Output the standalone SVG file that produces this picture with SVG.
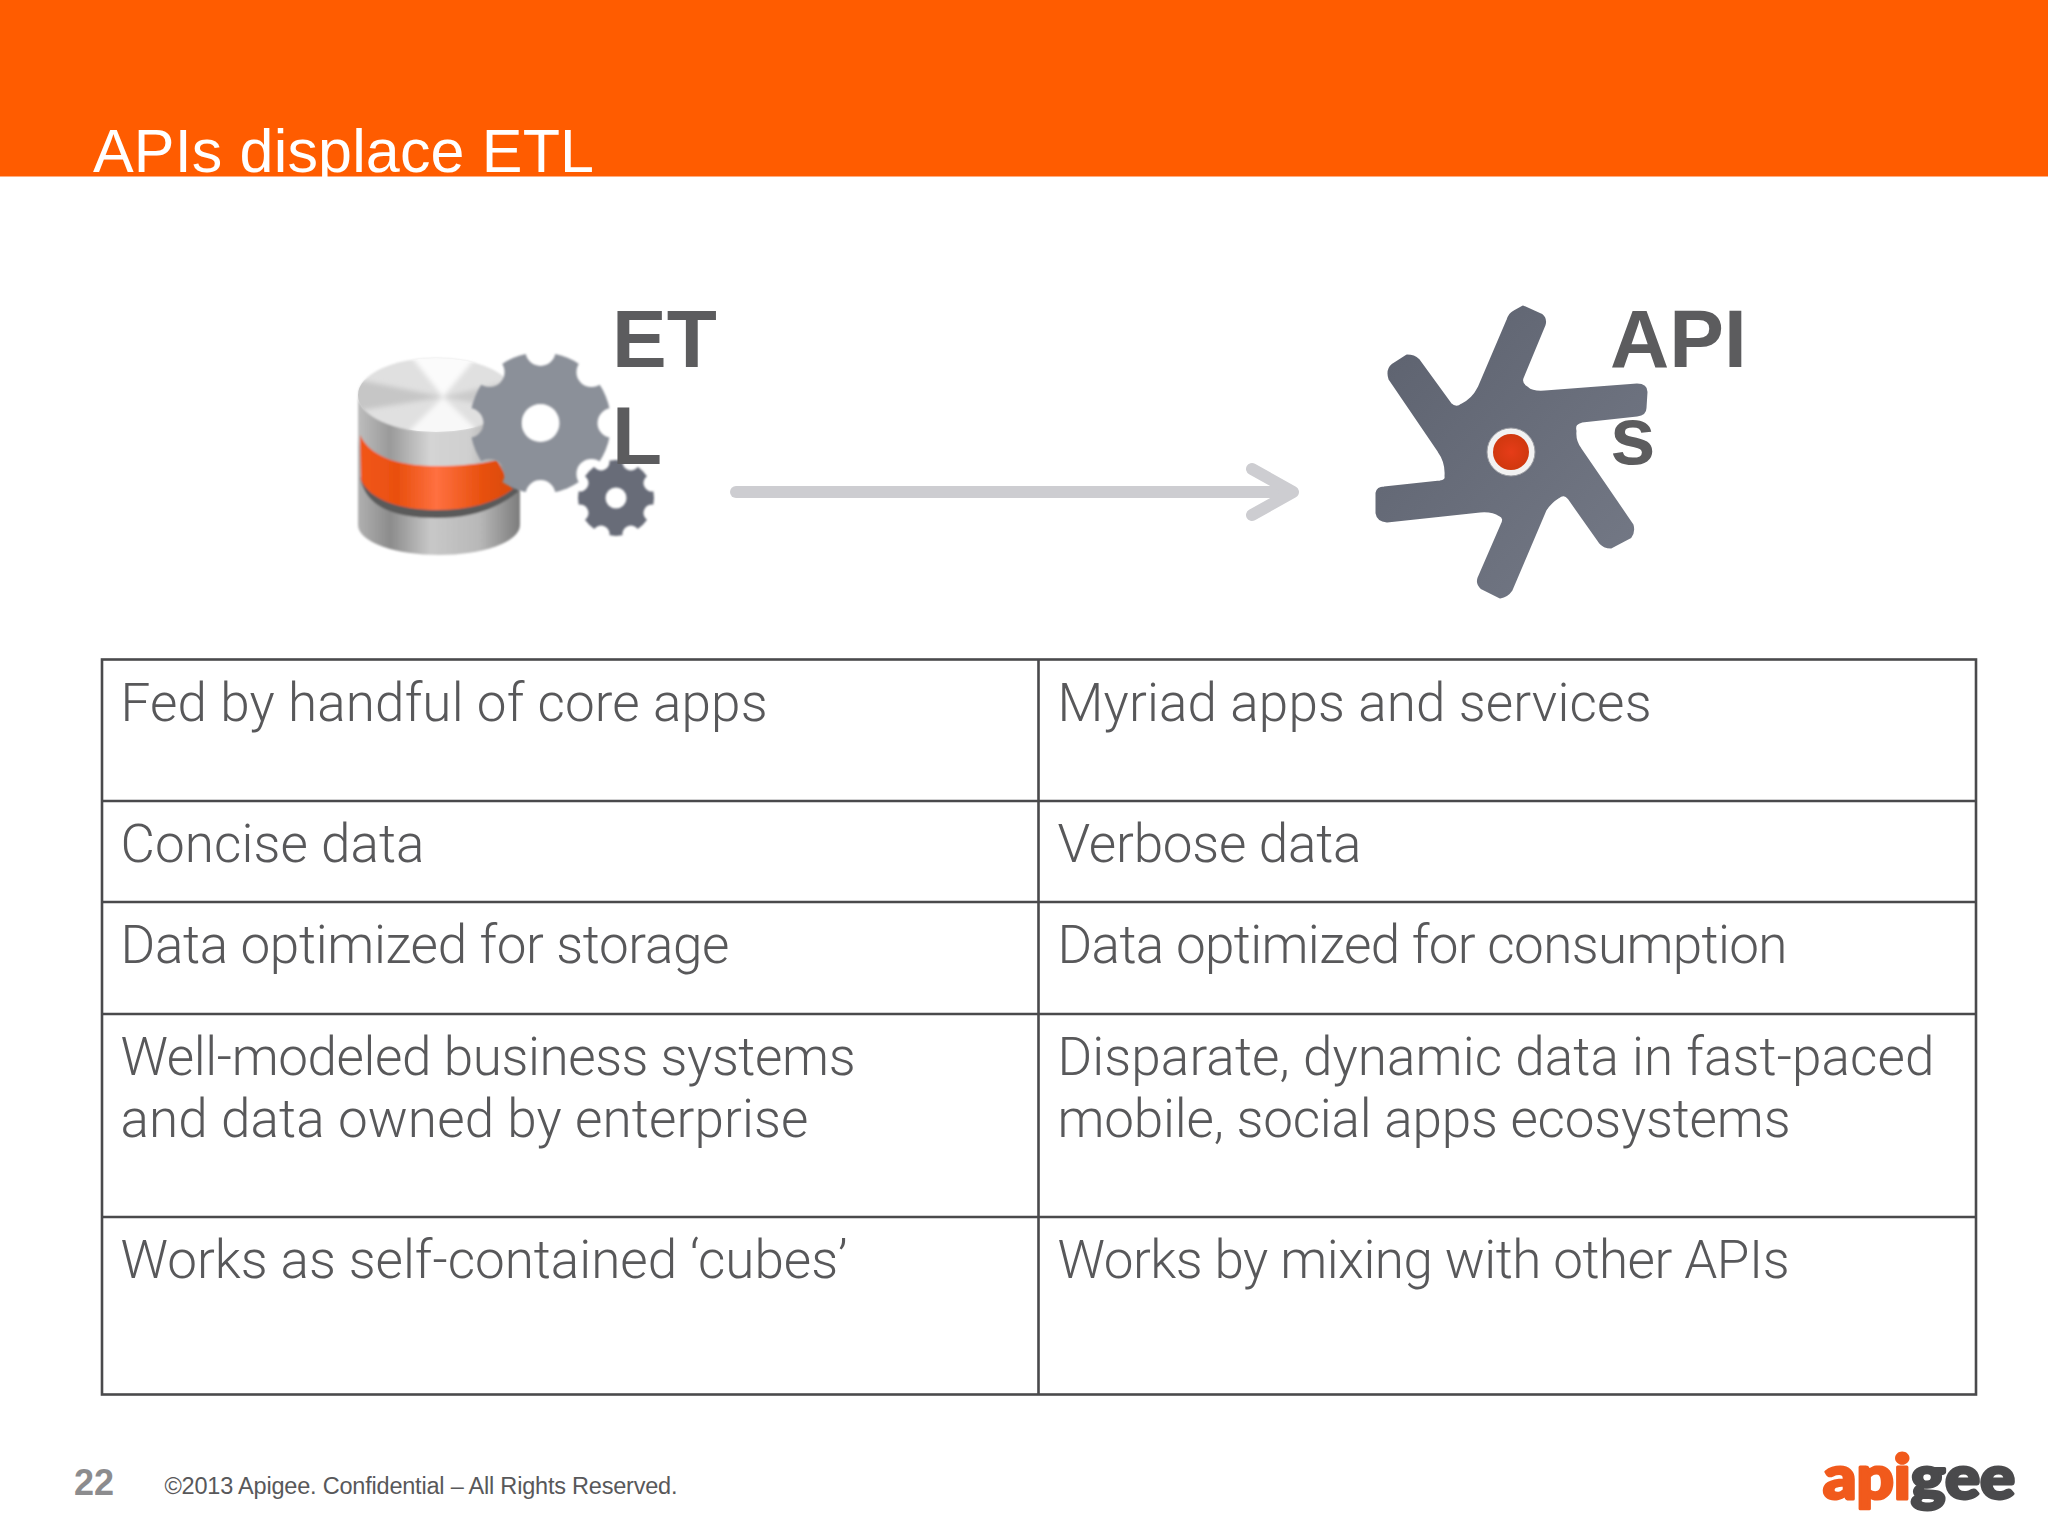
<svg xmlns="http://www.w3.org/2000/svg" width="2048" height="1535" viewBox="0 0 2048 1535">
<style>
.cell{font-family:"Roboto","Liberation Sans",sans-serif;font-weight:300;font-size:53px;fill:#58585a}
.big{font-family:"Liberation Sans",Arial,sans-serif;font-weight:700;font-size:82px;fill:#5c5c5e}
.grid{fill:none;stroke:#4a4a4c;stroke-width:2.6}
.sans{font-family:"Liberation Sans",Arial,sans-serif}
</style>
<defs>
<filter id="soft" x="-5%" y="-5%" width="110%" height="110%"><feGaussianBlur stdDeviation="0.8"/></filter>
<filter id="softer" x="-10%" y="-10%" width="120%" height="120%"><feGaussianBlur stdDeviation="2.5"/></filter>
<linearGradient id="silver" x1="0" x2="1" y1="0" y2="0"><stop offset="0" stop-color="#bdbdbd"/><stop offset=".2" stop-color="#9a9a9a"/><stop offset=".45" stop-color="#d4d4d4"/><stop offset=".7" stop-color="#cfcfcf"/><stop offset="1" stop-color="#8e8e8e"/></linearGradient>
<linearGradient id="silverLow" x1="0" x2="1" y1="0" y2="0"><stop offset="0" stop-color="#b0b0b0"/><stop offset=".2" stop-color="#8c8c8c"/><stop offset=".45" stop-color="#c8c8c8"/><stop offset=".75" stop-color="#b8b8b8"/><stop offset="1" stop-color="#7c7c7c"/></linearGradient>
<linearGradient id="band" x1="0" x2="1" y1="0" y2="0"><stop offset="0" stop-color="#f2551a"/><stop offset=".25" stop-color="#e9500f"/><stop offset=".5" stop-color="#ff7040"/><stop offset=".8" stop-color="#e8500e"/><stop offset="1" stop-color="#d94a0c"/></linearGradient>
<linearGradient id="starFill" x1="0" x2="1" y1="0" y2="1"><stop offset="0" stop-color="#5c616e"/><stop offset="1" stop-color="#757a87"/></linearGradient>
<radialGradient id="dot"><stop offset="0" stop-color="#e63c18"/><stop offset="1" stop-color="#d0380f"/></radialGradient>
<clipPath id="topDisc"><ellipse cx="436" cy="395" rx="78" ry="37"/></clipPath>
<mask id="gearBig" maskUnits="userSpaceOnUse" x="460" y="340" width="160" height="170">
<circle cx="540.5" cy="423" r="70.5" fill="#fff"/>
<circle cx="540.5" cy="423" r="19" fill="#000"/>
<g fill="#000">
<circle cx="612.5" cy="423" r="15"/><circle cx="612.5" cy="423" r="15" transform="rotate(45 540.5 423)"/><circle cx="612.5" cy="423" r="15" transform="rotate(90 540.5 423)"/><circle cx="612.5" cy="423" r="15" transform="rotate(135 540.5 423)"/><circle cx="612.5" cy="423" r="15" transform="rotate(180 540.5 423)"/><circle cx="612.5" cy="423" r="15" transform="rotate(225 540.5 423)"/><circle cx="612.5" cy="423" r="15" transform="rotate(270 540.5 423)"/><circle cx="612.5" cy="423" r="15" transform="rotate(315 540.5 423)"/>
</g>
</mask>
<mask id="gearSmall" maskUnits="userSpaceOnUse" x="570" y="450" width="90" height="95">
<circle cx="616" cy="498" r="38" fill="#fff"/>
<circle cx="616" cy="498" r="10.5" fill="#000"/>
<g fill="#000">
<circle cx="655" cy="498" r="8.5" transform="rotate(22.5 616 498)"/><circle cx="655" cy="498" r="8.5" transform="rotate(67.5 616 498)"/><circle cx="655" cy="498" r="8.5" transform="rotate(112.5 616 498)"/><circle cx="655" cy="498" r="8.5" transform="rotate(157.5 616 498)"/><circle cx="655" cy="498" r="8.5" transform="rotate(202.5 616 498)"/><circle cx="655" cy="498" r="8.5" transform="rotate(247.5 616 498)"/><circle cx="655" cy="498" r="8.5" transform="rotate(292.5 616 498)"/><circle cx="655" cy="498" r="8.5" transform="rotate(337.5 616 498)"/>
</g>
</mask>
<marker id="chev" markerUnits="userSpaceOnUse" markerWidth="70" markerHeight="70" refX="55" refY="35" orient="auto" viewBox="0 0 70 70">
<polyline points="19,12 60,35 19,58" fill="none" stroke="#cdcdd1" stroke-width="12" stroke-linecap="round" stroke-linejoin="round"/>
</marker>
</defs>
<rect width="2048" height="1535" fill="#fff"/>
<g id="header">
<rect width="2048" height="176.5" fill="#ff5c00"/>
<text class="sans" x="93" y="172" font-size="61" fill="#fff" textLength="501">APIs displace ETL</text>
</g>
<g id="etl-node">
<g filter="url(#soft)">
<path d="M358,395V525A81,30 0 0 0 520,525V395Z" fill="url(#silverLow)"/>
<path d="M358,395V437Q362,478 437,483Q515,478 518,437V395Z" fill="url(#silver)"/>
<path d="M360,476C365,510 400,518 437,518C470,518 495,510 518,492V478H360Z" fill="#5a5a5a"/>
<path d="M360,435C372,460 405,466 437,466C460,466 480,464 497,460L513,489C495,503 470,510 437,510C400,510 370,500 361,480Z" fill="url(#band)"/>
<ellipse cx="436" cy="395" rx="78" ry="37" fill="#e0e0e0"/>
</g>
<g clip-path="url(#topDisc)">
<g filter="url(#softer)">
<path d="M443,397L410,355H478Z" fill="#fbfbfb"/>
<path d="M443,397L405,435H482Z" fill="#f8f8f8"/>
<path d="M443,397L350,378V412Z" fill="#c6c6c6"/>
<path d="M443,397L525,378V412Z" fill="#cacaca"/>
</g>
</g>
<g filter="url(#soft)">
<rect x="460" y="340" width="160" height="170" fill="#8b9099" mask="url(#gearBig)"/>
<rect x="570" y="450" width="90" height="95" fill="#686c78" mask="url(#gearSmall)"/>
</g>
<text class="big" x="612" y="367">ET</text>
<text class="big" x="612" y="464">L</text>
</g>
<g id="connectors">
<line x1="736" y1="492" x2="1288" y2="492" stroke="#cdcdd1" stroke-width="12" stroke-linecap="round" marker-end="url(#chev)"/>
</g>
<g id="apis-node">
<path d="M1514,312L1523,307L1541,315Q1546,319 1544,325L1522,378Q1520,384 1527,388Q1532,393 1545,392L1637,385Q1646,385 1646,392L1645,408Q1645,414 1637,415L1582,421Q1573,423 1575,431Q1574,441 1580,449L1632,525Q1634,532 1630,537L1611,547Q1604,547 1600,542L1569,498Q1564,492 1558,497Q1550,502 1545,510L1511,590Q1507,596 1500,597L1482,588Q1477,584 1479,578L1502,525Q1506,518 1500,515Q1493,510 1480,511L1387,521Q1378,520 1377,513V493Q1378,488 1384,488L1440,482Q1447,481 1446,476Q1447,462 1439,451L1390,379Q1387,370 1393,365L1407,356Q1414,356 1418,360L1450,404Q1456,410 1462,405Q1473,400 1479,388L1508,320Q1510,314 1514,312Z" fill="url(#starFill)" stroke="url(#starFill)" stroke-width="3" stroke-linejoin="round"/>
<circle cx="1511" cy="452" r="24" fill="#f2f2f2" stroke="#9a9ca2" stroke-width="1"/>
<circle cx="1511" cy="452" r="18" fill="url(#dot)"/>
<text class="big" x="1610" y="367">API</text>
<text class="big" x="1610" y="464">s</text>
</g>
<g id="table">
<rect class="grid" x="102" y="659.5" width="1874" height="735"/>
<path class="grid" d="M1038.5,659.5V1394.5M102,801H1976M102,902H1976M102,1014H1976M102,1217H1976"/>
</g>
<g id="row-1">
<text class="cell" x="120.5" y="721" textLength="647">Fed by handful of core apps</text>
<text class="cell" x="1057.5" y="721" textLength="594">Myriad apps and services</text>
</g>
<g id="row-2">
<text class="cell" x="120.5" y="862" textLength="304">Concise data</text>
<text class="cell" x="1057.5" y="862" textLength="304">Verbose data</text>
</g>
<g id="row-3">
<text class="cell" x="120.5" y="963" textLength="609">Data optimized for storage</text>
<text class="cell" x="1057.5" y="963" textLength="730">Data optimized for consumption</text>
</g>
<g id="row-4">
<text class="cell" x="120.5" y="1075" textLength="735">Well-modeled business systems</text>
<text class="cell" x="120.5" y="1137" textLength="688">and data owned by enterprise</text>
<text class="cell" x="1057.5" y="1075" textLength="877">Disparate, dynamic data in fast-paced</text>
<text class="cell" x="1057.5" y="1137" textLength="733">mobile, social apps ecosystems</text>
</g>
<g id="row-5">
<text class="cell" x="120.5" y="1278" textLength="727">Works as self-contained ‘cubes’</text>
<text class="cell" x="1057.5" y="1278" textLength="732">Works by mixing with other APIs</text>
</g>
<g id="footer">
<text class="sans" x="74" y="1495" font-size="36" font-weight="700" fill="#8c8c8e">22</text>
<text class="sans" x="164.5" y="1494" font-size="23.5" fill="#58585a" textLength="513">©2013 Apigee. Confidential – All Rights Reserved.</text>
</g>
<g id="logo">
<text x="1823" y="1499" font-family="Lato,'Open Sans',sans-serif" font-weight="900" font-size="60" textLength="192" lengthAdjust="spacingAndGlyphs" stroke-width="3" stroke-linejoin="round"><tspan fill="#f15a1c" stroke="#f15a1c">api</tspan><tspan fill="#4a4a4c" stroke="#4a4a4c">gee</tspan></text>
</g>
</svg>
